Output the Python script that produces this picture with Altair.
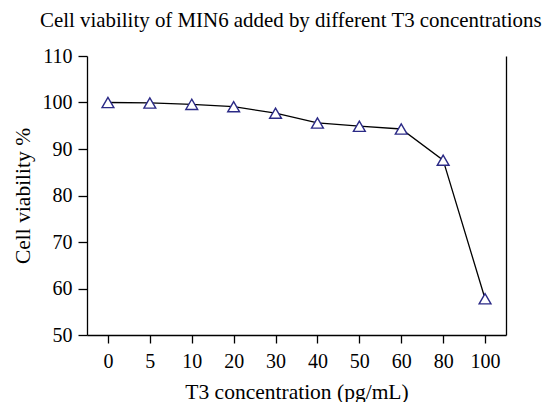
import altair as alt
import pandas as pd

concentrations = ["0", "5", "10", "20", "30", "40", "50", "60", "80", "100"]
viability = [100.0, 99.9, 99.6, 99.1, 97.7, 95.6, 94.9, 94.3, 87.6, 57.8]
y_ticks = [50, 60, 70, 80, 90, 100, 110]

df = pd.DataFrame({"conc": concentrations, "viab": viability})

FONT = "Liberation Serif"
LFS = 20
TFS = 21.5

x_enc = alt.X(
    "conc:O",
    sort=concentrations,
    scale=alt.Scale(type="point", padding=0.5),
    axis=alt.Axis(
        title="T3 concentration (pg/mL)",
        labelAngle=0,
        tickSize=8,
        labelPadding=8,
        titlePadding=10,
        grid=False,
        labelFont=FONT, titleFont=FONT, labelFontSize=LFS, titleFontSize=TFS,
    ),
)

y_scale = alt.Scale(domain=[50, 110], nice=False, zero=False)

line = alt.Chart(df).mark_line(color="black", strokeWidth=1.3).encode(
    x=x_enc,
    y=alt.Y(
        "viab:Q",
        scale=y_scale,
        axis=alt.Axis(
            orient="left",
            title="Cell viability %",
            values=y_ticks,
            tickSize=9,
            labelPadding=6,
            titlePadding=8,
            grid=False,
            labelFont=FONT, titleFont=FONT, labelFontSize=LFS, titleFontSize=TFS,
        ),
    ),
)

right_axis = alt.Chart(df).mark_point(opacity=0).encode(
    x=x_enc,
    y=alt.Y(
        "viab:Q",
        scale=y_scale,
        axis=alt.Axis(orient="right", labels=False, ticks=False, title=None,
                      grid=False, domain=True),
    ),
)

points = alt.Chart(df).mark_point(
    shape="triangle-up", filled=True, fill="white", stroke="#2b2a86",
    strokeWidth=1.4, size=140, opacity=1,
).encode(
    x=x_enc,
    y=alt.Y("viab:Q", scale=y_scale, axis=None),
)

chart = (
    alt.layer(line, right_axis, points)
    .resolve_axis(y="independent")
    .properties(
        width=419,
        height=279,
        autosize=alt.AutoSizeParams(type="none"),
        padding={"left": 79, "top": 48, "right": 39, "bottom": 80},
        title=alt.TitleParams(
            "Cell viability of MIN6 added by different T3 concentrations",
            anchor="start", frame="group", dx=-47, offset=15, fontSize=20.9,
            font=FONT, fontWeight="normal", color="black",
        ),
    )
    .configure_view(stroke=None)
    .configure_axis(
        titleFontWeight="normal", labelColor="black", titleColor="black",
        domainColor="black", tickColor="black", domainWidth=1.3, tickWidth=1.3,
    )
)

chart.save("out.html", embed_options={"renderer": "svg", "actions": False})
